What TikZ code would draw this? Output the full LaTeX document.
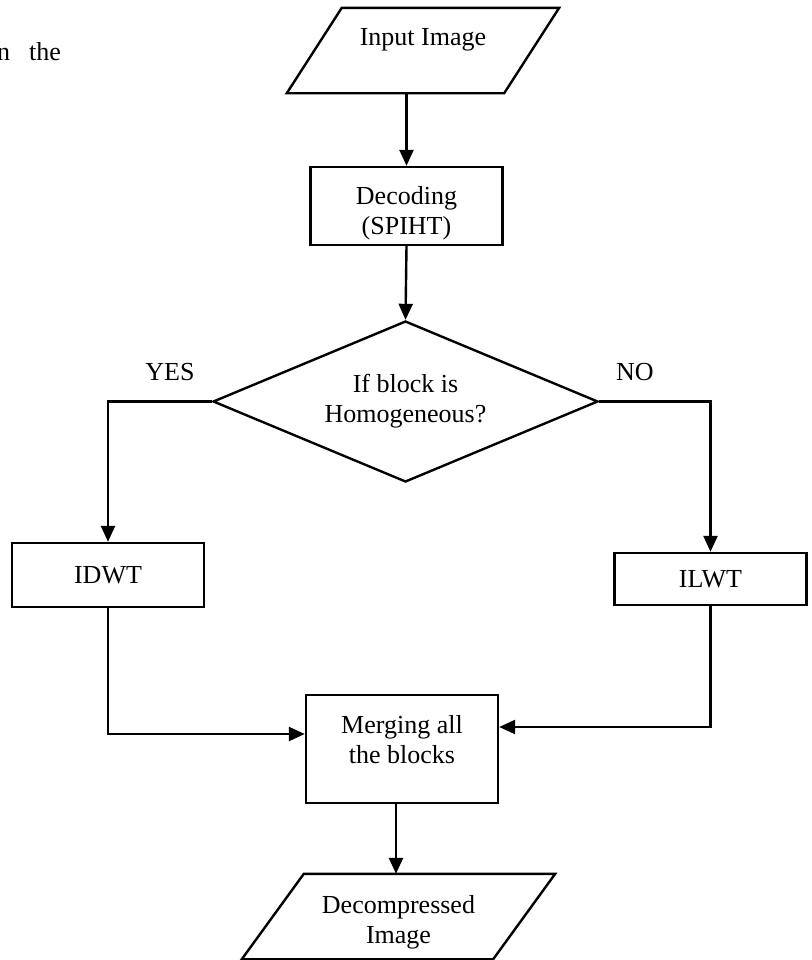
\documentclass[tikz,border=0pt]{standalone}
\usepackage{fontspec}
\setmainfont{Liberation Serif}
\usepackage{tikz}
\usetikzlibrary{shapes.geometric, arrows.meta}
\tikzset{
    base/.style={draw=black, line width=1.2pt, font=\fontsize{13}{15}\selectfont, align=center, inner sep=2pt},
    io/.style={base, draw=none, rectangle, minimum height=41.5pt},
    proc/.style={base, rectangle, minimum width=96pt},
    decide/.style={base, diamond, aspect=2.4, minimum width=192.5pt, minimum height=80.5pt},
    tag/.style={font=\fontsize{13}{15}\selectfont},
    arr/.style={-{Triangle[length=8pt, width=7pt]}, line width=1.2pt}
}
% slanted outline round an io node: name, half slant
\newcommand{\slantbox}[2]{%
    \draw[line width=1.2pt] ([xshift=#2]#1.north west) -- ([xshift=#2]#1.north east)
        -- ([xshift=-#2]#1.south east) -- ([xshift=-#2]#1.south west) -- cycle;}

\begin{document}
\begin{tikzpicture}[x=0.5pt, y=-0.5pt]
    % Page frame
    \useasboundingbox (0,0) rectangle (811,960);
    \node[tag, anchor=base west] (stray) at (-10,60) {n\hspace{9.5pt}the};

    % Flow blocks
    \node[io, minimum width=107.5pt, text depth=14pt] (in) at (423,50.5) {Input Image};
    \slantbox{in}{13.75pt}
    \node[proc, minimum height=39pt] (dec) at (406.5,206) {\rule{0pt}{16pt}Decoding\\(SPIHT)};
    \node[decide] (cond) at (405.5,401.5) {If block is\\Homogeneous?};
    \node[proc, minimum height=32pt] (idwt) at (108,575) {IDWT};
    \node[proc, minimum height=26pt] (ilwt) at (710.5,579) {ILWT};
    \node[proc, minimum height=54pt, text depth=10pt] (merge) at (402,749) {Merging all\\the blocks};
    \node[io, minimum width=124.5pt] (out) at (398.5,916.5) {\rule{0pt}{15pt}Decompressed\\Image};
    \slantbox{out}{15.5pt}

    % Branch labels
    \node[tag] (yes) at (170,372) {YES};
    \node[tag] (no) at (635,372) {NO};

    % Connectors
    \draw[arr] (in.south -| dec.north) -- (dec.north);
    \draw[arr] (dec.south) -- (cond.north);
    \draw[arr] (cond.west) -| (idwt.north);
    \draw[arr] (cond.east) -| (ilwt.north);
    \draw[arr] (idwt.south) |- ([yshift=7.5pt]merge.west);
    \draw[arr] (ilwt.south) |- ([yshift=11pt]merge.east);
    \draw[arr] ([xshift=-3pt]merge.south) -- ([xshift=-3pt]merge.south |- out.north);
\end{tikzpicture}
\end{document}
